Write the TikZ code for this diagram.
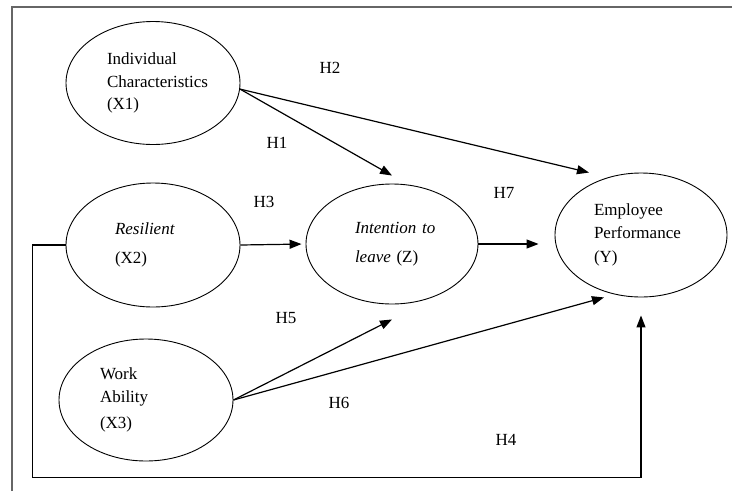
\documentclass[tikz,border=0pt]{standalone}
\usepackage{fontspec}
\setmainfont{Liberation Serif}
\usetikzlibrary{shapes.geometric,arrows.meta,calc}
\hyphenpenalty=10000

\begin{document}
\begin{tikzpicture}[x=1pt,y=-1pt,
  every node/.style={font=\fontsize{17}{22.5}\selectfont},
  var/.style={draw,ellipse,line width=0.9pt,minimum width=174pt,minimum height=123pt,inner sep=0pt,align=left},
  arr/.style={line width=1.2pt,-{Triangle[length=12pt,width=9pt]}},
  hyp/.style={inner sep=0pt}]
  \useasboundingbox (0,0) rectangle (732,491);

  % Draw frame
  \draw[black!60, line width=2.5pt] (12,491) -- (12,7) -- (732,7);

  % Draw variables
  \node[var, text width=92pt] (x1) at (153,83) {Individual\\Characteristics\\(X1)};
  \node[var, text width=76pt, minimum height=124pt] (x2) at (153,245) {\textit{Resilient}\\[6pt](X2)};
  \node[var, text width=92pt, minimum height=122pt] (x3) at (146,400) {Work\\Ability\\[4pt](X3)};
  \node[var, text width=74pt, minimum width=172pt, minimum height=120pt] (z) at (392,244) {\textit{Intention~to}\\[7pt]\textit{leave} (Z)};
  \node[var, text width=94pt, minimum width=172pt, minimum height=124pt] (y) at (641,235) {Employee\\Performance\\[2pt](Y)};

  % Draw paths
  \draw[arr] (x1.-4) -- ([yshift=8pt]z.north);
  \draw[arr] (x1.-4) -- ([xshift=-52pt]y.north);
  \draw[arr, shorten >=4pt] (x2.east) -- (z.west);
  \draw[arr] (z.east) -- ($(z.east -| y.west)+(-16,0)$);
  \draw[arr] (x3.east) -- ([yshift=-15pt]z.south);
  \draw[arr] (x3.east) -- ([xshift=-37pt]y.south);
  \draw[arr] (x2.west) -- ++(-33,0) |- ([yshift=-180pt]y.south) -- ([yshift=-18pt]y.south);

  % Label the hypotheses
  \node[hyp] (h1) at (277,143) {H1};
  \node[hyp] (h2) at (330,68) {H2};
  \node[hyp] (h3) at (264,202) {H3};
  \node[hyp] (h4) at (506,440) {H4};
  \node[hyp] (h5) at (286,318) {H5};
  \node[hyp] (h6) at (339,403) {H6};
  \node[hyp] (h7) at (504,193) {H7};
\end{tikzpicture}
\end{document}
